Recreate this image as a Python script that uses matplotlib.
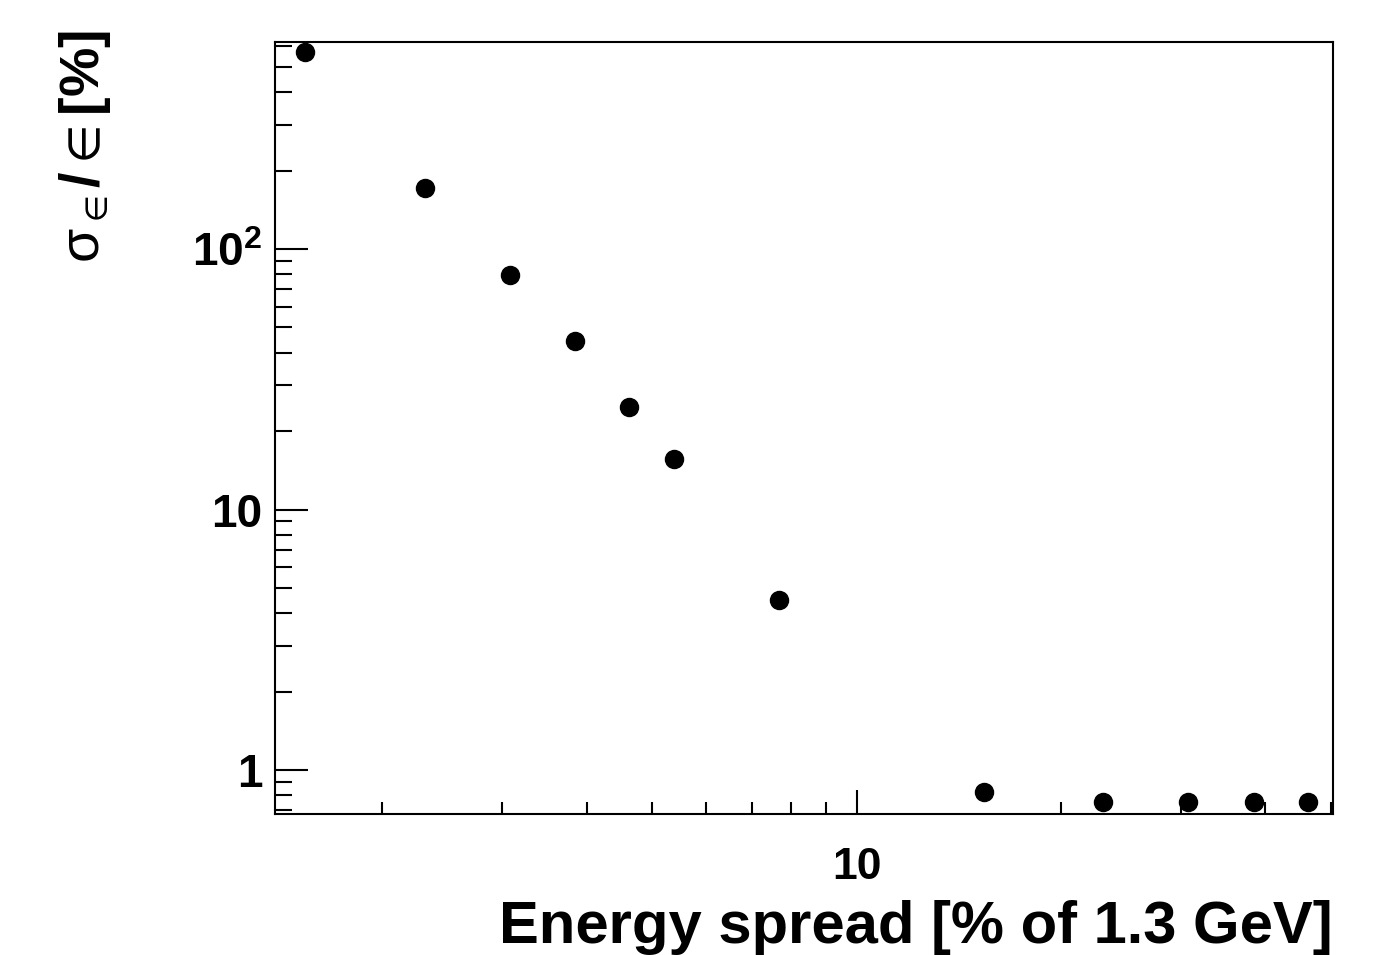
import matplotlib
matplotlib.use("Agg")
import matplotlib.pyplot as plt
from matplotlib.ticker import FixedLocator, FixedFormatter, NullFormatter

# Data: energy spread [% of 1.3 GeV] vs relative resolution [%]
energy_spread = [1.54, 2.31, 3.08, 3.85, 4.62, 5.38, 7.69, 15.38, 23.08, 30.77, 38.46, 46.15]
sigma_rel = [570, 171, 79.4, 44.3, 24.7, 15.6, 4.49, 0.823, 0.754, 0.754, 0.754, 0.754]

x_major = [10]
x_major_labels = ["10"]
x_minor = [2, 3, 4, 5, 6, 7, 8, 9, 20, 30, 40, 50]
y_major = [1, 10, 100]
y_major_labels = ["1", "10", r"$\mathbf{10^{2}}$"]
y_minor = [0.7, 0.8, 0.9, 2, 3, 4, 5, 6, 7, 8, 9, 20, 30, 40, 50, 60, 70, 80, 90, 200, 300, 400, 500, 600]

plt.rcParams["font.family"] = ["Liberation Sans", "DejaVu Sans"]
plt.rcParams["mathtext.fontset"] = "custom"
plt.rcParams["mathtext.rm"] = "Liberation Sans"
plt.rcParams["mathtext.bf"] = "Liberation Sans:bold"
plt.rcParams["mathtext.it"] = "Liberation Sans:italic"
plt.rcParams["mathtext.fallback"] = "stix"

W, H = 1393, 955
fig = plt.figure(figsize=(W / 100, H / 100), dpi=100)
L, R, T, B = 275, 1333, 42, 814
ax = fig.add_axes([L / W, 1 - B / H, (R - L) / W, (B - T) / H])

ax.plot(energy_spread, sigma_rel, "o", color="black", markersize=13, linestyle="none")
ax.set_xscale("log")
ax.set_yscale("log")
ax.set_xlim(1.39, 50.3)
ax.set_ylim(0.678, 623)

ax.xaxis.set_major_locator(FixedLocator(x_major))
ax.xaxis.set_major_formatter(FixedFormatter(x_major_labels))
ax.xaxis.set_minor_locator(FixedLocator(x_minor))
ax.xaxis.set_minor_formatter(NullFormatter())
ax.yaxis.set_major_locator(FixedLocator(y_major))
ax.yaxis.set_major_formatter(FixedFormatter(y_major_labels))
ax.yaxis.set_minor_locator(FixedLocator(y_minor))
ax.yaxis.set_minor_formatter(NullFormatter())

for s in ax.spines.values():
    s.set_linewidth(1.5)

ax.tick_params(axis="x", which="major", direction="in", length=17, width=1.5, pad=24)
ax.tick_params(axis="x", which="minor", direction="in", length=8.5, width=1.5)
ax.tick_params(axis="y", which="major", direction="in", length=24, width=1.5, pad=9)
ax.tick_params(axis="y", which="minor", direction="in", length=12, width=1.5)

for lab in ax.get_xticklabels():
    lab.set_fontsize(32)
    lab.set_fontweight("bold")
for lab in ax.get_yticklabels():
    lab.set_fontsize(33)
    lab.set_fontweight("bold")

fig.text(R / W, 1 - 943 / H, "Energy spread [% of 1.3 GeV]", ha="right", va="baseline",
         fontsize=43, fontweight="bold")
fig.text(85 / W, 1 - 30 / H, r"$\mathrm{\sigma}_{\in}\mathbf{/}\in\mathbf{[\%]}$", rotation=90,
         ha="center", va="top", fontsize=40)

fig.savefig("out.png", dpi=100)
